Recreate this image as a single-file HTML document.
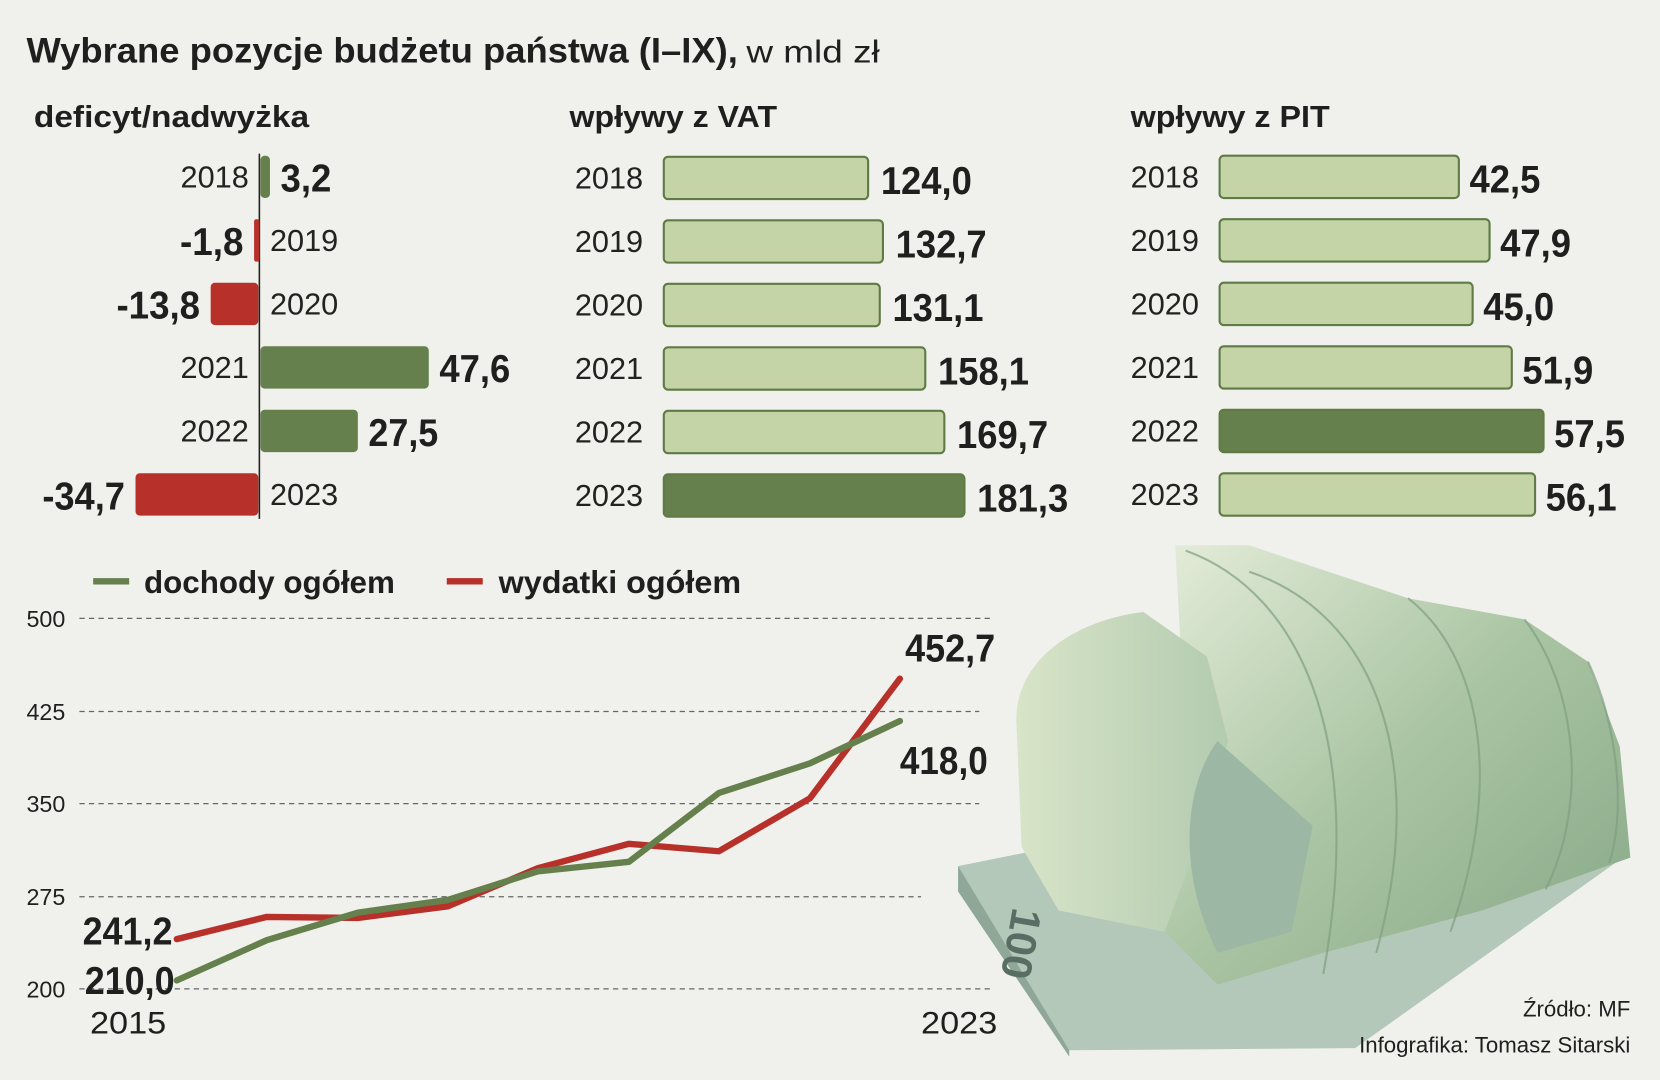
<!DOCTYPE html>
<html><head><meta charset="utf-8"><style>
html,body{margin:0;padding:0;background:#f0f1ec;}
svg{display:block}
.t{font-family:"Liberation Sans",sans-serif;fill:#1f1f1f}
.y{font-family:"Liberation Sans",sans-serif;font-size:29px;fill:#222}
.v{font-family:"Liberation Sans",sans-serif;font-weight:bold;font-size:37px;fill:#1f1f1f}
</style></head><body>
<svg width="1660" height="1080" viewBox="0 0 1568 1020" xmlns="http://www.w3.org/2000/svg">
<defs>
<linearGradient id="g1" x1="0" y1="0" x2="1" y2="1"><stop offset="0" stop-color="#e4ecd9"/><stop offset="0.5" stop-color="#a9c4a2"/><stop offset="1" stop-color="#86a786"/></linearGradient>
<linearGradient id="g2" x1="0" y1="0" x2="1" y2="0"><stop offset="0" stop-color="#d8e4c8"/><stop offset="1" stop-color="#b3cbb0"/></linearGradient>
</defs>
<rect width="1568" height="1020" fill="#f0f1ec"/>
<text x="25" y="59" class="t" font-size="33" font-weight="bold" textLength="672" lengthAdjust="spacingAndGlyphs">Wybrane pozycje budżetu państwa (I–IX),</text>
<text x="705" y="59" class="t" font-size="30" fill="#333" textLength="126" lengthAdjust="spacingAndGlyphs">w mld zł</text>
<text x="32" y="120" class="t" font-size="29" font-weight="bold" textLength="260" lengthAdjust="spacingAndGlyphs">deficyt/nadwyżka</text>
<text x="538" y="120" class="t" font-size="29" font-weight="bold" textLength="196" lengthAdjust="spacingAndGlyphs">wpływy z VAT</text>
<text x="1068" y="120" class="t" font-size="29" font-weight="bold" textLength="188" lengthAdjust="spacingAndGlyphs">wpływy z PIT</text>

<!-- deficit -->
<line x1="245" y1="145" x2="245" y2="490" stroke="#222" stroke-width="1.5"/>
<rect x="246" y="147" width="9" height="40" rx="4" fill="#65804c"/>
<rect x="240" y="207" width="5" height="40" rx="2" fill="#b8302a"/>
<rect x="199" y="267" width="45" height="40" rx="4" fill="#b8302a"/>
<rect x="246" y="327" width="159" height="40" rx="4" fill="#65804c"/>
<rect x="246" y="387" width="92" height="40" rx="4" fill="#65804c"/>
<rect x="128" y="447" width="116" height="40" rx="4" fill="#b8302a"/>
<g class="y"><text x="235" y="177" text-anchor="end">2018</text><text x="255" y="237">2019</text><text x="255" y="297">2020</text><text x="235" y="357" text-anchor="end">2021</text><text x="235" y="417" text-anchor="end">2022</text><text x="255" y="477">2023</text></g>
<g class="v">
<text x="265" y="181" textLength="48" lengthAdjust="spacingAndGlyphs">3,2</text>
<text x="170" y="241" textLength="60" lengthAdjust="spacingAndGlyphs">-1,8</text>
<text x="110" y="301" textLength="79" lengthAdjust="spacingAndGlyphs">-13,8</text>
<text x="415" y="361" textLength="67" lengthAdjust="spacingAndGlyphs">47,6</text>
<text x="348" y="421" textLength="66" lengthAdjust="spacingAndGlyphs">27,5</text>
<text x="40" y="481" textLength="78" lengthAdjust="spacingAndGlyphs">-34,7</text></g>

<!-- VAT -->
<g stroke="#5f7a45" stroke-width="2">
<rect x="627" y="148" width="193" height="40" rx="4" fill="#c5d4a6"/>
<rect x="627" y="208" width="207" height="40" rx="4" fill="#c5d4a6"/>
<rect x="627" y="268" width="204" height="40" rx="4" fill="#c5d4a6"/>
<rect x="627" y="328" width="247" height="40" rx="4" fill="#c5d4a6"/>
<rect x="627" y="388" width="265" height="40" rx="4" fill="#c5d4a6"/>
<rect x="627" y="448" width="284" height="40" rx="4" fill="#65804c"/>
</g>
<g class="y"><text x="543" y="178">2018</text><text x="543" y="238">2019</text><text x="543" y="298">2020</text><text x="543" y="358">2021</text><text x="543" y="418">2022</text><text x="543" y="478">2023</text></g>
<g class="v">
<text x="832" y="183" textLength="86" lengthAdjust="spacingAndGlyphs">124,0</text>
<text x="846" y="243" textLength="86" lengthAdjust="spacingAndGlyphs">132,7</text>
<text x="843" y="303" textLength="86" lengthAdjust="spacingAndGlyphs">131,1</text>
<text x="886" y="363" textLength="86" lengthAdjust="spacingAndGlyphs">158,1</text>
<text x="904" y="423" textLength="86" lengthAdjust="spacingAndGlyphs">169,7</text>
<text x="923" y="483" textLength="86" lengthAdjust="spacingAndGlyphs">181,3</text></g>

<!-- PIT -->
<g stroke="#5f7a45" stroke-width="2">
<rect x="1152" y="147" width="226" height="40" rx="4" fill="#c5d4a6"/>
<rect x="1152" y="207" width="255" height="40" rx="4" fill="#c5d4a6"/>
<rect x="1152" y="267" width="239" height="40" rx="4" fill="#c5d4a6"/>
<rect x="1152" y="327" width="276" height="40" rx="4" fill="#c5d4a6"/>
<rect x="1152" y="387" width="306" height="40" rx="4" fill="#65804c"/>
<rect x="1152" y="447" width="298" height="40" rx="4" fill="#c5d4a6"/>
</g>
<g class="y"><text x="1068" y="177">2018</text><text x="1068" y="237">2019</text><text x="1068" y="297">2020</text><text x="1068" y="357">2021</text><text x="1068" y="417">2022</text><text x="1068" y="477">2023</text></g>
<g class="v">
<text x="1388" y="182" textLength="67" lengthAdjust="spacingAndGlyphs">42,5</text>
<text x="1417" y="242" textLength="67" lengthAdjust="spacingAndGlyphs">47,9</text>
<text x="1401" y="302" textLength="67" lengthAdjust="spacingAndGlyphs">45,0</text>
<text x="1438" y="362" textLength="67" lengthAdjust="spacingAndGlyphs">51,9</text>
<text x="1468" y="422" textLength="67" lengthAdjust="spacingAndGlyphs">57,5</text>
<text x="1460" y="482" textLength="67" lengthAdjust="spacingAndGlyphs">56,1</text></g>

<!-- money approx -->
<g>
<polygon points="905,818 995,800 1530,812 1280,990 1010,992 905,840" fill="#b3c8b8"/>
<polygon points="905,818 1010,992 1010,998 905,842" fill="#8ea796"/>
<path d="M1110,515 L1180,515 L1330,565 L1440,585 L1500,625 L1530,705 L1540,810 L1400,860 L1250,900 L1150,930 L1100,880 L1120,700 Z" fill="url(#g1)"/>
<path d="M960,680 C960,620 1020,585 1080,578 L1140,620 L1160,700 L1130,800 L1100,880 L1000,860 L965,800 Z" fill="url(#g2)"/>
<g fill="none" stroke="#7f9f82" stroke-width="2" opacity="0.7">
<path d="M1120,520 C1230,560 1290,700 1250,920"/>
<path d="M1180,540 C1300,580 1350,720 1300,900"/>
<path d="M1330,565 C1400,620 1420,740 1370,880"/>
<path d="M1440,585 C1490,650 1500,760 1460,840"/>
<path d="M1500,625 C1530,690 1535,770 1520,815"/>
</g>
<path d="M1150,700 C1120,740 1110,820 1150,900 L1220,880 L1240,780 Z" fill="#9cb8a4"/>
<text x="1000" y="860" font-family="Liberation Sans" font-size="40" font-weight="bold" fill="#5a6d64" transform="rotate(100 980 840)">100</text>
</g>

<!-- line chart legend -->
<line x1="88" y1="549" x2="122" y2="549" stroke="#65804c" stroke-width="6"/>
<text x="136" y="560" class="t" font-size="30" font-weight="bold" textLength="237" lengthAdjust="spacingAndGlyphs">dochody ogółem</text>
<line x1="422" y1="549" x2="456" y2="549" stroke="#b8302a" stroke-width="6"/>
<text x="471" y="560" class="t" font-size="30" font-weight="bold" textLength="229" lengthAdjust="spacingAndGlyphs">wydatki ogółem</text>

<g stroke="#666" stroke-width="1.2" stroke-dasharray="5,4">
<line x1="75" y1="584" x2="935" y2="584"/>
<line x1="75" y1="672" x2="925" y2="672"/>
<line x1="75" y1="759" x2="925" y2="759"/>
<line x1="75" y1="847" x2="870" y2="847"/>
<line x1="75" y1="934" x2="935" y2="934"/>
</g>
<g class="t" font-size="22" fill="#333"><text x="25" y="592">500</text><text x="25" y="680">425</text><text x="25" y="767">350</text><text x="25" y="855">275</text><text x="25" y="942">200</text></g>

<polyline fill="none" stroke="#b8302a" stroke-width="6" stroke-linejoin="round" stroke-linecap="round" points="167,887 252,866 338,867 423,856 508,820 594,797 679,804 765,754 850,641"/>
<polyline fill="none" stroke="#65804c" stroke-width="6" stroke-linejoin="round" stroke-linecap="round" points="167,926 252,888 338,862 423,850 508,823 594,814 679,749 765,721 850,681"/>

<g class="v">
<text x="855" y="625" textLength="85" lengthAdjust="spacingAndGlyphs">452,7</text>
<text x="850" y="731" textLength="83" lengthAdjust="spacingAndGlyphs">418,0</text>
<text x="78" y="892" textLength="85" lengthAdjust="spacingAndGlyphs">241,2</text>
<text x="80" y="939" textLength="85" lengthAdjust="spacingAndGlyphs">210,0</text></g>
<g class="t" font-size="30"><text x="85" y="976" textLength="72" lengthAdjust="spacingAndGlyphs">2015</text><text x="870" y="976" textLength="72" lengthAdjust="spacingAndGlyphs">2023</text></g>

<text x="1540" y="960" text-anchor="end" class="t" font-size="21" fill="#333">Źródło: MF</text>
<text x="1540" y="994" text-anchor="end" class="t" font-size="21" fill="#333">Infografika: Tomasz Sitarski</text>
</svg>
</body></html>
